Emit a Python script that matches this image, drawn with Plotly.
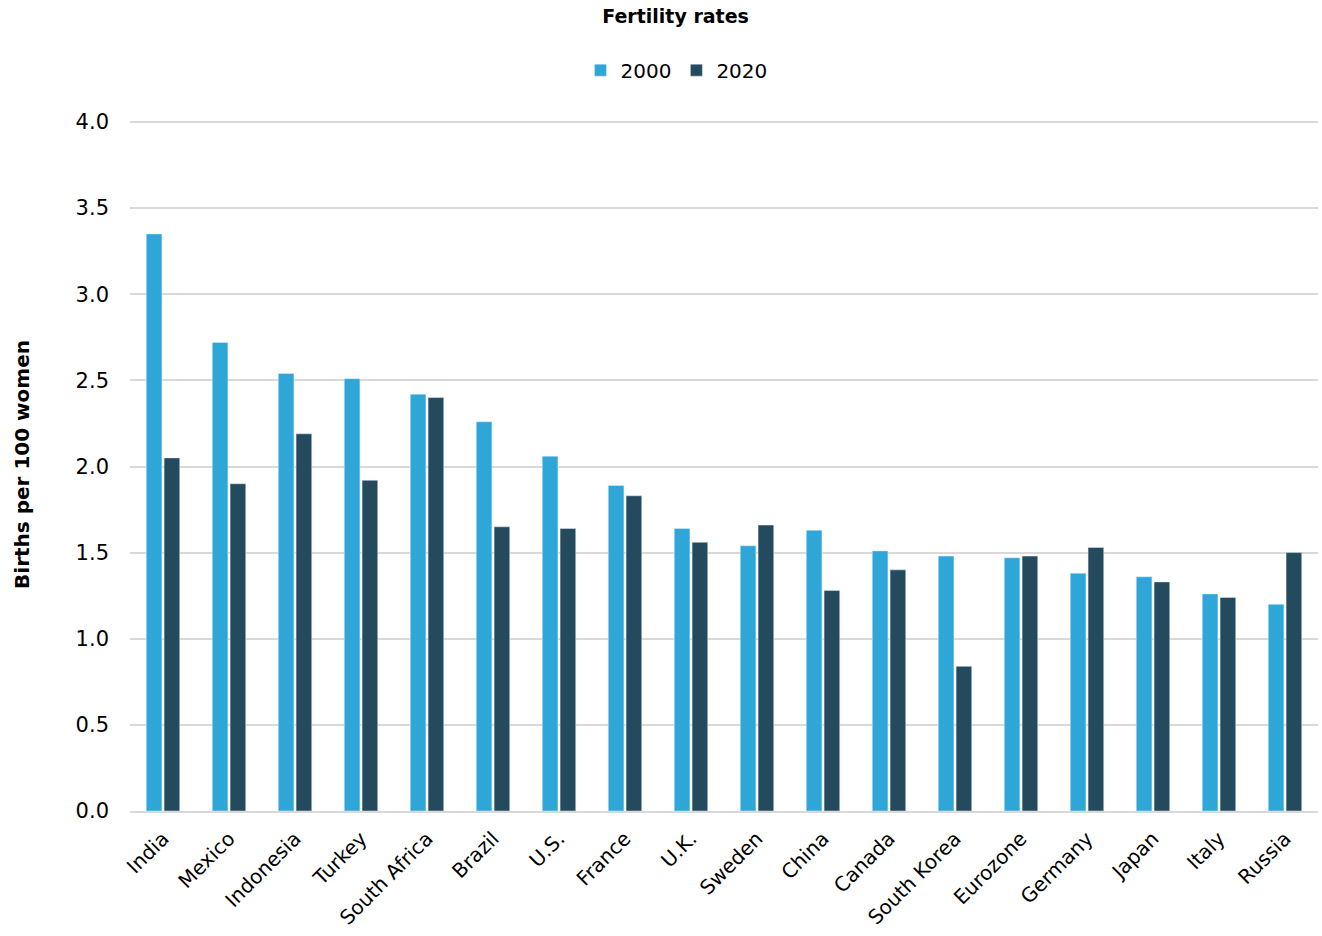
import plotly.graph_objects as go

countries = ["India", "Mexico", "Indonesia", "Turkey", "South Africa", "Brazil", "U.S.",
             "France", "U.K.", "Sweden", "China", "Canada", "South Korea", "Eurozone",
             "Germany", "Japan", "Italy", "Russia"]
y2000 = [3.35, 2.72, 2.54, 2.51, 2.42, 2.26, 2.06, 1.89, 1.64, 1.54, 1.63, 1.51, 1.48, 1.47, 1.38, 1.36, 1.26, 1.20]
y2020 = [2.05, 1.90, 2.19, 1.92, 2.40, 1.65, 1.64, 1.83, 1.56, 1.66, 1.28, 1.40, 0.84, 1.48, 1.53, 1.33, 1.24, 1.50]

FONT = "DejaVu Sans"

fig = go.Figure()
fig.add_trace(go.Bar(x=countries, y=y2000, name="2000", marker_color="#2EA7D8"))
fig.add_trace(go.Bar(x=countries, y=y2020, name="2020", marker_color="#244A5E"))

fig.update_layout(
    width=1322, height=936,
    margin=dict(l=130, r=4, t=118, b=125),
    paper_bgcolor="white", plot_bgcolor="white",
    font=dict(family=FONT, size=20, color="#000000"),
    title=dict(text="<b>Fertility rates</b>", x=0.511, xanchor="center", y=0.983, yanchor="middle",
               font=dict(size=19, family=FONT)),
    legend=dict(orientation="h", x=0.46, xanchor="center", y=1.069, yanchor="middle",
                font=dict(size=20), itemwidth=30, traceorder="normal"),
    barmode="group", bargap=0.46, bargroupgap=0.12,
    xaxis=dict(tickangle=-45, showline=True, linecolor="#D9D9D9", linewidth=2,
               ticks="", tickfont=dict(size=20), ticklabelstandoff=6),
    yaxis=dict(range=[0, 4.0232], tickvals=[0, 0.5, 1, 1.5, 2, 2.5, 3, 3.5, 4],
               tickformat=".1f", showgrid=True,
               gridcolor="#D9D9D9", gridwidth=2, zeroline=False, ticks="",
               tickfont=dict(size=21), ticklabelstandoff=20,
               title=dict(text="<b>Births per 100 women</b>", font=dict(size=20), standoff=40)),
)

fig.write_html("out.html")
